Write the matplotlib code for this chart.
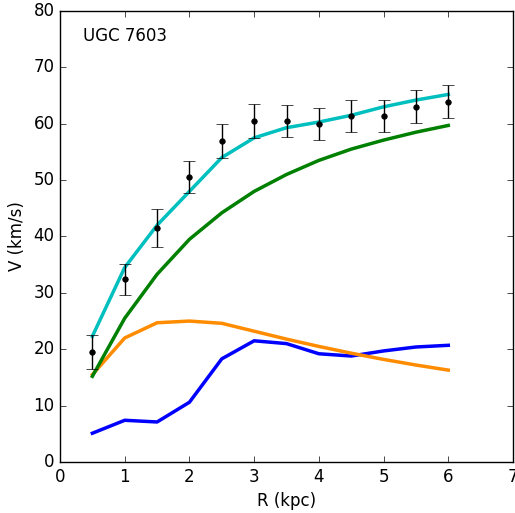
import numpy as np
import matplotlib
matplotlib.use('Agg')
import matplotlib.pyplot as plt

plt.style.use('classic')

# rotation curve data
r = [0.5, 1.0, 1.5, 2.0, 2.5, 3.0, 3.5, 4.0, 4.5, 5.0, 5.5, 6.0]
v_obs = [19.5, 32.4, 41.5, 50.6, 56.9, 60.5, 60.5, 60.0, 61.4, 61.4, 63.0, 63.9]
v_err = [3.0, 2.8, 3.3, 2.8, 3.0, 3.0, 2.9, 2.8, 2.9, 2.9, 2.9, 2.9]
v_fit = [22.3, 34.5, 42.0, 48.0, 54.0, 57.5, 59.3, 60.3, 61.5, 63.0, 64.2, 65.2]
v_halo = [15.2, 25.5, 33.3, 39.5, 44.2, 48.0, 51.0, 53.5, 55.5, 57.1, 58.5, 59.7]
v_disk = [15.5, 22.0, 24.7, 25.0, 24.6, 23.2, 21.8, 20.5, 19.3, 18.2, 17.2, 16.3]
v_gas = [5.1, 7.4, 7.1, 10.6, 18.3, 21.5, 21.0, 19.2, 18.8, 19.7, 20.4, 20.7]

fig = plt.figure(figsize=(5.15, 5.13), dpi=100, facecolor='white')
ax = fig.add_axes([60/515, 51/513, 453/515, 451/513])

ax.plot(r, v_gas, color='b', lw=2.5)
ax.plot(r, v_disk, color='darkorange', lw=2.5)
ax.plot(r, v_halo, color='g', lw=2.5)
ax.plot(r, v_fit, color='c', lw=2.5)
ax.errorbar(r, v_obs, yerr=v_err, fmt='o', color='k', ms=4, capsize=4, elinewidth=1)

ax.text(0.35, 75.5, 'UGC 7603', fontsize=12, va='center')

ax.set_xlim(0, 7)
ax.set_ylim(0, 80)
ax.set_xlabel('R (kpc)')
ax.set_ylabel('V (km/s)')

fig.savefig('out.png', dpi=100, facecolor='white')
